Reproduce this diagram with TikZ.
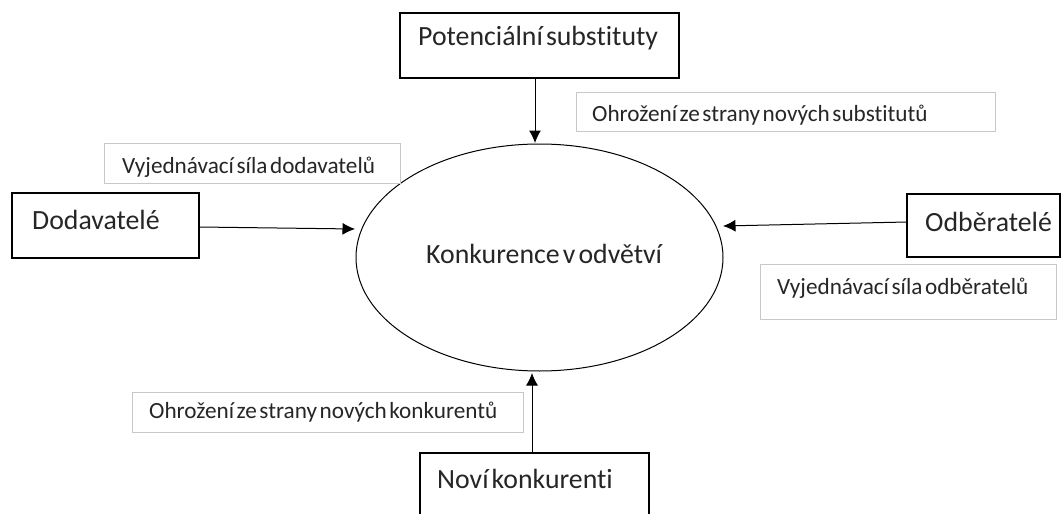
\documentclass[tikz,border=0pt]{standalone}
\usepackage{fontspec}
\setmainfont{Carlito}[WordSpace=0.5,Ligatures=NoCommon]
\usetikzlibrary{arrows.meta,shapes.geometric}
\definecolor{txt}{HTML}{262626}
\definecolor{lblgray}{HTML}{C8C8C8}
\tikzset{
  mainbox/.style={draw=black, line width=1.3pt, rectangle, inner sep=0pt},
  lblbox/.style={draw=lblgray, line width=0.8pt, rectangle, inner sep=0pt},
  bigtext/.style={text=txt, inner sep=0pt, anchor=west, font=\fontsize{27.8}{32}\selectfont},
  smalltext/.style={text=txt, inner sep=0pt, anchor=west, font=\fontsize{23.2}{27}\selectfont},
  arr/.style={draw=black, line width=1pt, -{Latex[length=12.5pt,width=12pt]}},
}
\begin{document}
\begin{tikzpicture}[x=1pt,y=-1pt]
\useasboundingbox (0,0) rectangle (1061,514);
\clip (0,0) rectangle (1061,514);
\fill[white] (0,0) rectangle (1061,514);

% central ellipse
\node[draw=black, line width=1pt, ellipse, minimum width=367pt, minimum height=227pt, inner sep=0pt] (ell) at (539.5,257.5) {};
\node[bigtext] (elltext) at (426,254) {Konkurence v odvětví};

% main boxes
\node[mainbox, minimum width=279pt, minimum height=65pt] (sub) at (539.5,45.5) {};
\node[bigtext] (subtext) at (418,38) {Potenciální substituty};

\node[mainbox, minimum width=187pt, minimum height=65pt] (dod) at (105.5,225.5) {};
\node[bigtext] (dodtext) at (32,220) {Dodavatelé};

\node[mainbox, minimum width=153pt, minimum height=63pt] (odb) at (983.5,225.5) {};
\node[bigtext] (odbtext) at (925,222) {Odběratelé};

\node[mainbox, minimum width=229pt, minimum height=100pt] (nov) at (534.5,503) {};
\node[bigtext] (novtext) at (437,479) {Noví konkurenti};

% label boxes
\node[lblbox, minimum width=419pt, minimum height=39pt] (lsub) at (785.5,112) {};
\node[smalltext] (lsubtext) at (592,115) {Ohrožení ze strany nových substitutů};

\node[lblbox, minimum width=296pt, minimum height=40pt] (ldod) at (252,163) {};
\node[smalltext] (ldodtext) at (122,167) {Vyjednávací síla dodavatelů};

\node[lblbox, minimum width=296pt, minimum height=55pt] (lodb) at (908,291.5) {};
\node[smalltext] (lodbtext) at (777,288) {Vyjednávací síla odběratelů};

\node[lblbox, minimum width=391pt, minimum height=40pt] (lnov) at (327.5,412) {};
\node[smalltext] (lnovtext) at (149,412) {Ohrožení ze strany nových konkurentů};

% arrow tips on the ellipse
\coordinate (tipT) at (535,143);
\coordinate (tipL) at (355,229);
\coordinate (tipR) at (723,226);
\coordinate (tipB) at (532,373);
\coordinate (startL) at (199,227);
\coordinate (startR) at (907,222);

\draw[arr] (sub.south -| tipT) -- (tipT);
\draw[arr] (startL) -- (tipL);
\draw[arr] (startR) -- (tipR);
\draw[arr] (nov.north -| tipB) -- (tipB);
\end{tikzpicture}
\end{document}
